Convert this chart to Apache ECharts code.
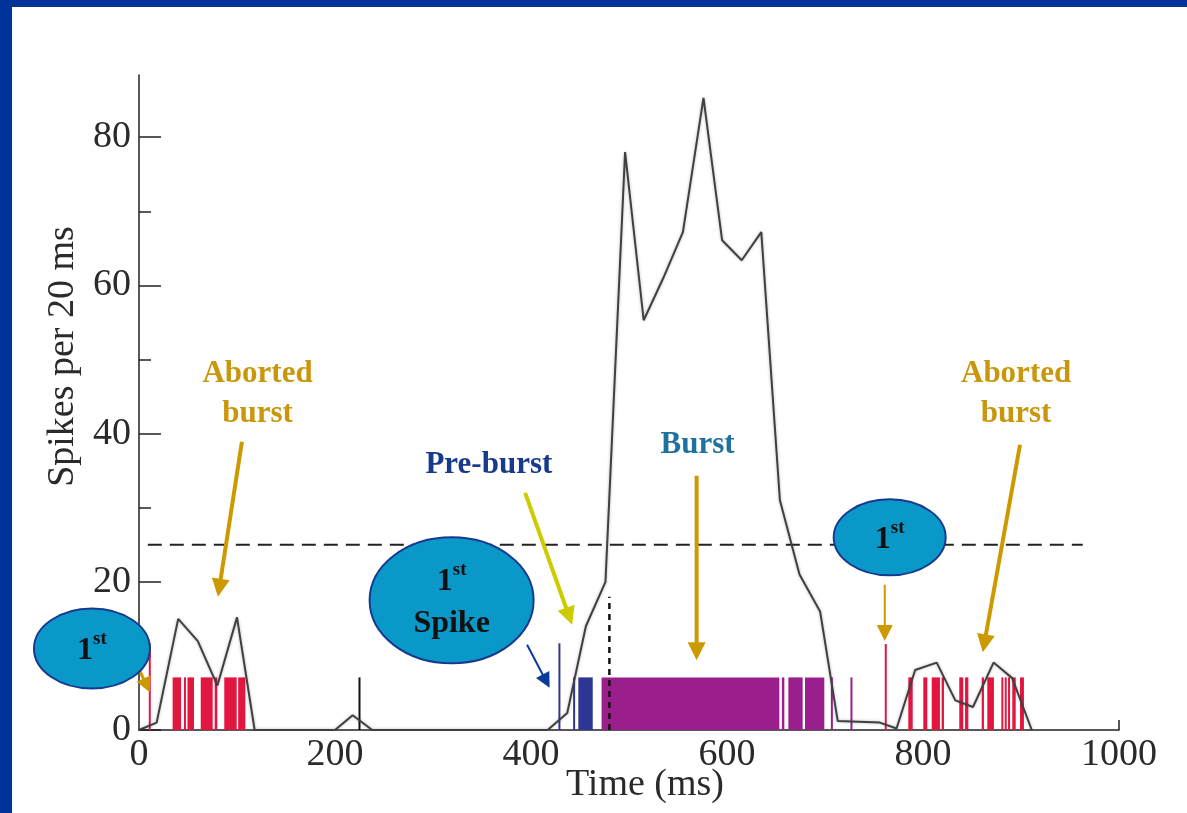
<!DOCTYPE html>
<html><head><meta charset="utf-8">
<script src="https://cdn.jsdelivr.net/npm/echarts@6/dist/echarts.min.js"></script>
<style>
html,body{margin:0;padding:0;background:#fff;overflow:hidden}
#c{position:absolute;left:0;top:0;width:1187px;height:813px}
.frameL{position:absolute;left:0;top:0;width:12px;height:813px;background:#003399;z-index:5}
.frameT{position:absolute;left:0;top:0;width:1187px;height:7px;background:#003399;z-index:5}
</style>
</head><body>
<div id="c"></div><div class="frameL"></div><div class="frameT"></div>
<script>
// PSTH (spikes per 20 ms bin)
const timeMs = [0,18,40,60,80,100,118,200,218,238,417,437,456,476,496,515,535,555,576,595,615,635,654,674,695,713,756,773,792,814,833,851,872,891,911];
const spikesPer20ms = [0,1,15,12,6,15.2,0,0,2,0,0,2.3,14,20,78,55.3,61,67.2,85.3,66.1,63.4,67.2,31,21,16,1.2,1,0.2,8.1,9.1,4,3.1,9.1,7,0];

// raster marks: [start ms, end ms, height]
const redSpikes = [[11,11,11.7],[34.3,42.9,7.1],[46.9,48.3,7.1],[49.5,56.1,7.1],[63,75.2,7.1],[77.2,79.9,7.1],[87,99.7,7.1],[101.2,108.5,7.1],
  [762,762,11.6],[785,789.5,7.1],[800.3,804.4,7.1],[808.9,817.3,7.1],[819,821.4,7.1],[837,841.1,7.1],[842.9,846.3,7.1],[859.9,862.2,7.1],[865.6,872.4,7.1],[881,882.7,7.1],[884.4,886,7.1],[887.8,889.5,7.1],[891.1,894.6,7.1],[899,903,7.1]];
const blackSpikes = [[225,225,7.1]];
const blueSpikes = [[429,429,11.7],[444,444,7.1],[448.3,463,7.1]];
const purpleSpikes = [[472,653.4,7.1],[656,658.5,7.1],[662.6,677.2,7.1],[679.6,699.3,7.1],[707,707,7.1],[727,727,7.1]];

// reference lines
const thresholdLine = [[9,25],[963,25]];
const burstOnsetLine = [[480,0],[480,18]];

// axis ticks
const xTickLabels = [0,200,400,600,800,1000];
const yMajorTicks = [0,20,40,60,80];
const yMinorTicks = [10,30,50,70];

// annotations (anchored in data units)
const annotationTexts = [
  {text:'Aborted\nburst', at:[121,45.3], color:'#c9960c'},
  {text:'Aborted\nburst', at:[895,45.3], color:'#c9960c'},
  {text:'Pre-burst', at:[357,35.7], color:'#173a8c'},
  {text:'Burst', at:[570,38.5], color:'#1f72a0'}
];
const bubbles = [
  {center:[-48,11], rx:58, ry:40, label:'{n|1}{s|st}'},
  {center:[319,17.5], rx:82, ry:63, label:'{n|1}{s|st}\n{n|Spike}'},
  {center:[766,26], rx:56, ry:38, label:'{n|1}{s|st}'}
];
const arrows = [
  {from:[105,38.9], to:[80.6,18], color:'#cc9900', width:4, head:18},
  {from:[899,38.5], to:[861,10.5], color:'#cc9900', width:4, head:18},
  {from:[394,32], to:[442,14.2], color:'#cccc00', width:4, head:18},
  {from:[569,34.3], to:[569,9.4], color:'#cc9900', width:4, head:18},
  {from:[396,11.5], to:[419,5.7], color:'#0a3a9a', width:2, head:15},
  {from:[-2,8.8], to:[11,5.1], color:'#cc9900', width:3, head:15},
  {from:[761,19.6], to:[761,12], color:'#cc9900', width:2, head:16}
];

const serif = '"Liberation Serif","DejaVu Serif",serif';
const chart = echarts.init(document.getElementById('c'), null, {renderer:'canvas'});

function raster(color){
  return function(params, api){
    const a = api.coord([api.value(0), 0]);
    const b = api.coord([api.value(1), api.value(2)]);
    let w = b[0]-a[0], x = a[0];
    if (w < 2) { x = a[0] - 1; w = 2; }
    return {type:'rect', shape:{x:x, y:b[1], width:w, height:a[1]-b[1]}, style:{fill:color}};
  };
}
function rasterSeries(data, color){
  return {type:'custom', data:data, encode:{x:[0,1], y:2}, renderItem:raster(color), z:2, silent:true};
}

const psth = timeMs.map((t,i)=>[t, spikesPer20ms[i]]);

chart.setOption({
  animation:false,
  backgroundColor:'transparent',
  grid:{left:139, right:68, top:75, bottom:83, containLabel:false, outerBoundsMode:'none'},
  xAxis:[{
    type:'value', min:0, max:1000, interval:200,
    axisLine:{lineStyle:{color:'#222', width:1.5}},
    axisTick:{show:true, inside:true, length:10, customValues:[1000], lineStyle:{color:'#222', width:1.5}},
    axisLabel:{customValues:xTickLabels, formatter:function(v){return String(v);}, fontFamily:serif, fontSize:38, color:'#2a2a2a', margin:6},
    splitLine:{show:false},
    name:'Time (ms)', nameLocation:'middle', nameGap:36, nameMoveOverlap:false,
    nameTextStyle:{fontFamily:serif, fontSize:38, color:'#2a2a2a', padding:[0,0,0,32]}
  }],
  yAxis:[{
    type:'value', min:0, max:88.4,
    axisLine:{show:true, lineStyle:{color:'#222', width:1.5}},
    axisTick:{show:true, inside:true, length:22, customValues:yMajorTicks, lineStyle:{color:'#222', width:1.5}},
    axisLabel:{customValues:yMajorTicks, formatter:function(v){return String(v);}, fontFamily:serif, fontSize:38, color:'#2a2a2a', margin:8},
    splitLine:{show:false},
    name:'Spikes per 20 ms', nameLocation:'middle', nameGap:57, nameMoveOverlap:false,
    nameTextStyle:{fontFamily:serif, fontSize:38, color:'#2a2a2a', padding:[0,0,0,92]}
  },{
    type:'value', min:0, max:88.4, position:'left',
    axisLine:{show:false},
    axisTick:{show:true, inside:true, length:12, customValues:yMinorTicks, lineStyle:{color:'#222', width:1.5}},
    axisLabel:{show:false}, splitLine:{show:false}
  }],
  series:[
    rasterSeries(redSpikes, '#e3163f'),
    rasterSeries(blackSpikes, '#111111'),
    rasterSeries(blueSpikes, '#2e3592'),
    rasterSeries(purpleSpikes, '#9a1e8b'),
    {type:'line', data:thresholdLine, symbol:'none', silent:true, z:3,
     lineStyle:{color:'#222', width:2, type:[14,8]}},
    {type:'line', data:burstOnsetLine, symbol:'none', silent:true, z:3,
     lineStyle:{color:'#111', width:2.5, type:[6,5]}},
    {type:'line', data:psth, symbol:'none', silent:true, z:4,
     lineStyle:{color:'#404040', width:2, shadowColor:'rgba(0,0,0,0.3)', shadowBlur:3}}
  ]
});

function px(p){ return chart.convertToPixel({gridIndex:0}, p); }
const g = [];
arrows.forEach(a=>{
  const f = px(a.from), t = px(a.to);
  const dx = t[0]-f[0], dy = t[1]-f[1], L = Math.hypot(dx,dy);
  const ux = dx/L, uy = dy/L, nx = -uy, ny = ux;
  const bx = t[0]-ux*a.head, by = t[1]-uy*a.head, hw = a.head*0.5;
  g.push({type:'line', z:100, shape:{x1:f[0], y1:f[1], x2:bx+ux*2, y2:by+uy*2}, style:{stroke:a.color, lineWidth:a.width}});
  g.push({type:'polygon', z:100, shape:{points:[[t[0],t[1]],[bx+nx*hw,by+ny*hw],[bx-nx*hw,by-ny*hw]]}, style:{fill:a.color}});
});
annotationTexts.forEach(a=>{
  const p = px(a.at);
  g.push({type:'text', z:101, style:{text:a.text, x:p[0], y:p[1], align:'center', verticalAlign:'middle',
    font:'bold 31px '+serif, fill:a.color, lineHeight:40}});
});
bubbles.forEach(b=>{
  const p = px(b.center);
  g.push({type:'ellipse', z:102, shape:{cx:p[0], cy:p[1], rx:b.rx, ry:b.ry}, style:{fill:'#0a98c9', stroke:'#173a8f', lineWidth:2}});
  g.push({type:'text', z:103, style:{text:b.label, x:p[0], y:p[1]+2, align:'center', verticalAlign:'middle', fill:'#111',
    rich:{n:{font:'bold 32px '+serif, fill:'#111', lineHeight:42}, s:{font:'bold 19px '+serif, fill:'#111', lineHeight:26, verticalAlign:'top'}}}});
});
chart.setOption({graphic:{elements:g}});
</script>
</body></html>
